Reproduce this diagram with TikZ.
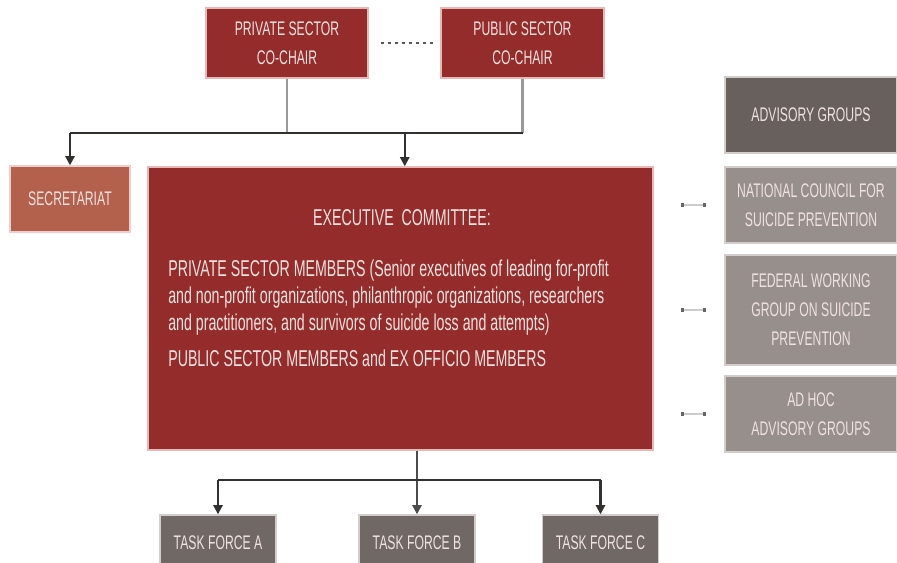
\documentclass[tikz,border=0pt]{standalone}
\usepackage{fontspec}
\setmainfont{Liberation Sans}[FakeStretch=0.62]
\usetikzlibrary{arrows.meta,calc}
\definecolor{chairred}{HTML}{932C2A}
\definecolor{secred}{HTML}{B3604C}
\definecolor{pinkedge}{HTML}{E6B9B6}
\definecolor{advdark}{HTML}{67605D}
\definecolor{advlight}{HTML}{978F8B}
\definecolor{taskgray}{HTML}{6F6865}
\definecolor{greyedge}{HTML}{D2CDCB}
\definecolor{boxtext}{HTML}{F0E2E0}
\definecolor{barblack}{HTML}{333130}

\begin{document}
\begin{tikzpicture}[
    box/.style = {line width = 1pt, inner sep = 0pt, align = center,
        text = boxtext, font = \fontsize{14}{20.5}\selectfont},
    redbox/.style = {box, draw = pinkedge, fill = chairred},
    greybox/.style = {box, draw = greyedge, fill = advlight},
    chairline/.style = {line width = 2pt, draw = black!40},
    barline/.style = {line width = 2pt, draw = barblack},
    downarrow/.style = {line width = 1.5pt, draw = barblack,
        -{Triangle[length = 6.5pt, width = 6.5pt]}},
    sideline/.style = {line width = 1pt, draw = black!20,
        {Square[length = 2.5pt, width = 2.5pt, black!60]}-{Square[length = 2.5pt, width = 2.5pt, black!60]}}
]
    \useasboundingbox (0,0) rectangle (22.425,14.05);
    % co-chairs
    \node[redbox, minimum width = 4.05cm, minimum height = 1.75cm] (pri) at (7.175,12.975) {PRIVATE SECTOR\\CO-CHAIR};
    \node[redbox, minimum width = 4.075cm, minimum height = 1.75cm] (pub) at (13.0625,12.975) {PUBLIC SECTOR\\CO-CHAIR};
    \draw[line width = 2pt, black!65, dash pattern = on 2pt off 3pt, shorten < = 0.3cm, shorten > = 0.125cm] (pri.east) -- (pub.west);
    % secretariat and committee
    \node[box, draw = pinkedge!70, fill = secred, minimum width = 3cm, minimum height = 1.65cm] (sec) at (1.75,9.075) {SECRETARIAT};
    \node[redbox, minimum width = 12.625cm, minimum height = 7.075cm] (exec) at (10.0125,6.3375) {};
    \begin{scope}[every node/.append style = {text = boxtext, inner sep = 0pt, font = \fontsize{16.3}{19}\selectfont}]
        \node (execttl) at (10.05,8.6) {EXECUTIVE\ \ COMMITTEE:};
        \node[anchor = north west, align = left] (execbody) at (4.2,7.55) {PRIVATE SECTOR MEMBERS (Senior executives of leading for-profit\\and non-profit organizations, philanthropic organizations, researchers\\and practitioners, and survivors of suicide loss and attempts)\\[7pt]PUBLIC SECTOR MEMBERS and EX OFFICIO MEMBERS};
    \end{scope}
    % advisory groups
    \node[box, draw = greyedge, fill = advdark, minimum width = 4.3cm, minimum height = 1.9cm] (adv) at (20.275,11.175) {ADVISORY GROUPS};
    \node[greybox, minimum width = 4.3cm, minimum height = 1.9cm] (nat) at (20.275,8.925) {NATIONAL COUNCIL FOR\\SUICIDE PREVENTION};
    \node[greybox, minimum width = 4.3cm, minimum height = 2.75cm] (fed) at (20.275,6.3) {FEDERAL WORKING\\GROUP ON SUICIDE\\PREVENTION};
    \node[greybox, minimum width = 4.3cm, minimum height = 1.9cm] (adhoc) at (20.275,3.7) {AD HOC\\ADVISORY GROUPS};
    % task forces
    \begin{scope}[every node/.append style = {box, draw = greyedge, fill = taskgray, minimum width = 2.9cm, minimum height = 1.4cm}]
        \node (tfa) at (5.45,0.475) {TASK FORCE A};
        \node (tfb) at (10.425,0.475) {TASK FORCE B};
        \node (tfc) at (15.0125,0.475) {TASK FORCE C};
    \end{scope}
    % connectors
    \coordinate (topbar) at (0,10.725);
    \coordinate (lowbar) at (0,2.05);
    \coordinate (mid) at ($(pri.south |- topbar)!0.5!(pub.south |- topbar)$);
    \draw[chairline] (pri.south) -- (pri.south |- topbar);
    \draw[chairline] (pub.south) -- (pub.south |- topbar);
    \draw[barline] (sec.north |- topbar) -- (pub.south |- topbar);
    \draw[downarrow] (sec.north |- topbar) -- (sec.north);
    \draw[downarrow] (mid) -- (mid |- exec.north);
    \draw[downarrow, draw = black!70] (tfb.north |- exec.south) -- (tfb.north);
    \draw[barline] (tfa.north |- lowbar) -- (tfc.north |- lowbar);
    \draw[downarrow] (tfa.north |- lowbar) -- (tfa.north);
    \draw[downarrow] (tfc.north |- lowbar) -- (tfc.north);
    \begin{scope}[shorten < = 0.675cm, shorten > = 0.45cm]
        \draw[sideline] (nat.west -| exec.east) -- (nat.west);
        \draw[sideline] (fed.west -| exec.east) -- (fed.west);
        \draw[sideline] (adhoc.west -| exec.east) -- (adhoc.west);
    \end{scope}
\end{tikzpicture}
\end{document}
